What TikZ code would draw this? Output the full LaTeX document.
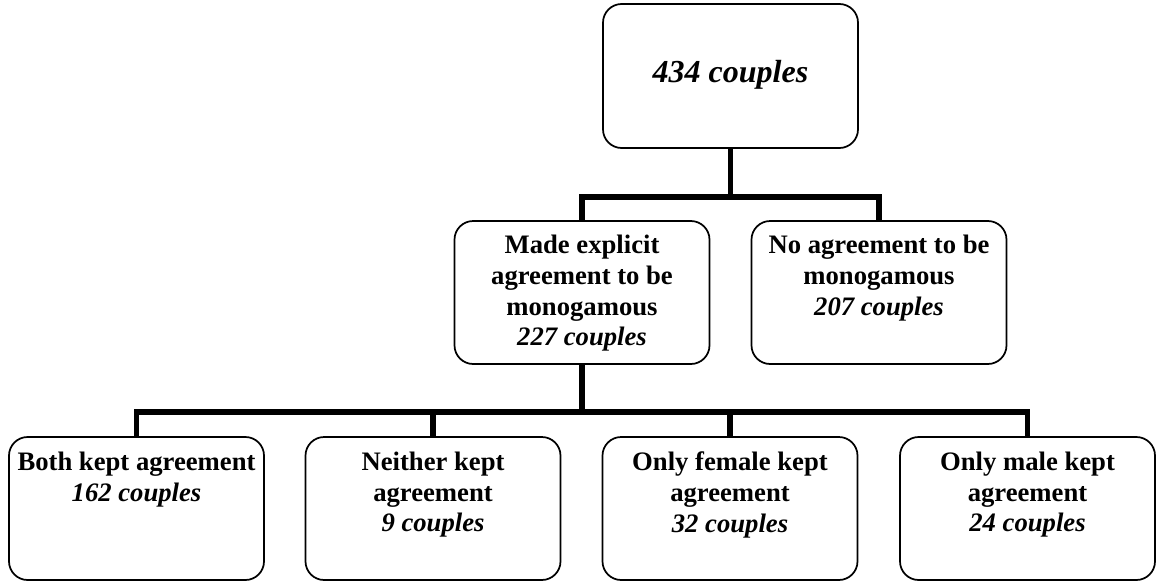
\documentclass[tikz,border=0pt]{standalone}
\usepackage{fontspec}
\setmainfont{Liberation Serif}
\begin{document}
\begin{tikzpicture}[x=0.75pt,y=-0.75pt,
  box/.style={draw, line width=1.3pt, rounded corners=14pt, minimum width=191.25pt, minimum height=107.25pt, inner sep=0pt, outer sep=0pt},
  conn/.style={line width=4.2pt, line join=miter},
  lbl/.style={font=\fontsize{20}{23}\selectfont\bfseries, align=center, anchor=north, inner sep=0pt},
  bigl/.style={font=\fontsize{24}{28}\selectfont\bfseries\itshape, anchor=base, inner sep=0pt}]
\useasboundingbox (0,0) rectangle (1160,582);
% boxes
\node[box, minimum height=108pt] (top) at (730.5,76) {};
\node[box] (ml) at (582,292.5) {};
\node[box] (mr) at (879,292.5) {};
\node[box] (b1) at (136.5,508.5) {};
\node[box] (b2) at (433,508.5) {};
\node[box] (b3) at (730,508.5) {};
\node[box] (b4) at (1027.5,508.5) {};
% texts
\node[bigl] (toptxt) at (730.5,82) {434 couples};
\node[lbl, yshift=-10.5pt] (mltxt) at (ml.north) {Made explicit\\agreement to be\\monogamous\\\textit{227 couples}};
\node[lbl, yshift=-10.5pt] (mrtxt) at (mr.north) {No agreement to be\\monogamous\\\textit{207 couples}};
\node[lbl, yshift=-11pt] (b1txt) at (b1.north) {Both kept agreement\\\textit{162 couples}};
\node[lbl, yshift=-11pt] (b2txt) at (b2.north) {Neither kept\\agreement\\\textit{9 couples}};
\node[lbl, yshift=-11pt] (b3txt) at (b3.north) {Only female kept\\agreement\\\textit{32 couples}};
\node[lbl, yshift=-11pt] (b4txt) at (b4.north) {Only male kept\\agreement\\\textit{24 couples}};
% connectors
\coordinate (j1) at (730.5,197);
\coordinate (j2) at (582,412);
\draw[conn] (top.south) -- (j1);
\draw[conn] (ml.north) -- (ml.north |- j1) -- (mr.north |- j1) -- (mr.north);
\draw[conn] (ml.south) -- (j2);
\draw[conn] (b1.north) -- (b1.north |- j2) -- (b4.north |- j2) -- (b4.north);
\draw[conn] (b2.north) -- (b2.north |- j2);
\draw[conn] (b3.north) -- (b3.north |- j2);
\end{tikzpicture}
\end{document}
